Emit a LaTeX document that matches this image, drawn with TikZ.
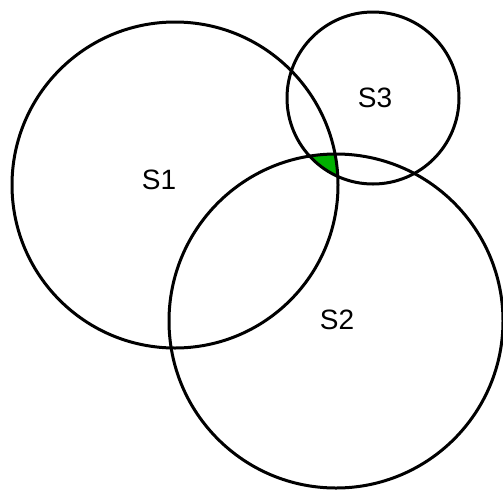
\documentclass[tikz,border=0pt]{standalone}
\usepackage{fontspec}
\setmainfont{Liberation Sans}
\definecolor{regiongreen}{RGB}{0,176,0}
\begin{document}
\begin{tikzpicture}[x=1pt,y=-1pt,
  ring/.style={draw=black,line width=3pt},
  lbl/.style={font=\fontsize{28}{32}\selectfont,inner sep=0pt}]
\useasboundingbox (0,0) rectangle (503,491);
\coordinate (c1) at (175,185);
\coordinate (c2) at (336,321);
\coordinate (c3) at (373,98);
\begin{scope}
  \clip (c1) circle (163);
  \clip (c2) circle (167);
  \fill[regiongreen] (c3) circle (86);
\end{scope}
\draw[ring] (c1) circle (163);
\draw[ring] (c2) circle (167);
\draw[ring] (c3) circle (86);
\node[lbl] (s1) at (159,180) {S1};
\node[lbl] (s2) at (337,320) {S2};
\node[lbl] (s3) at (375,98) {S3};
\end{tikzpicture}
\end{document}
